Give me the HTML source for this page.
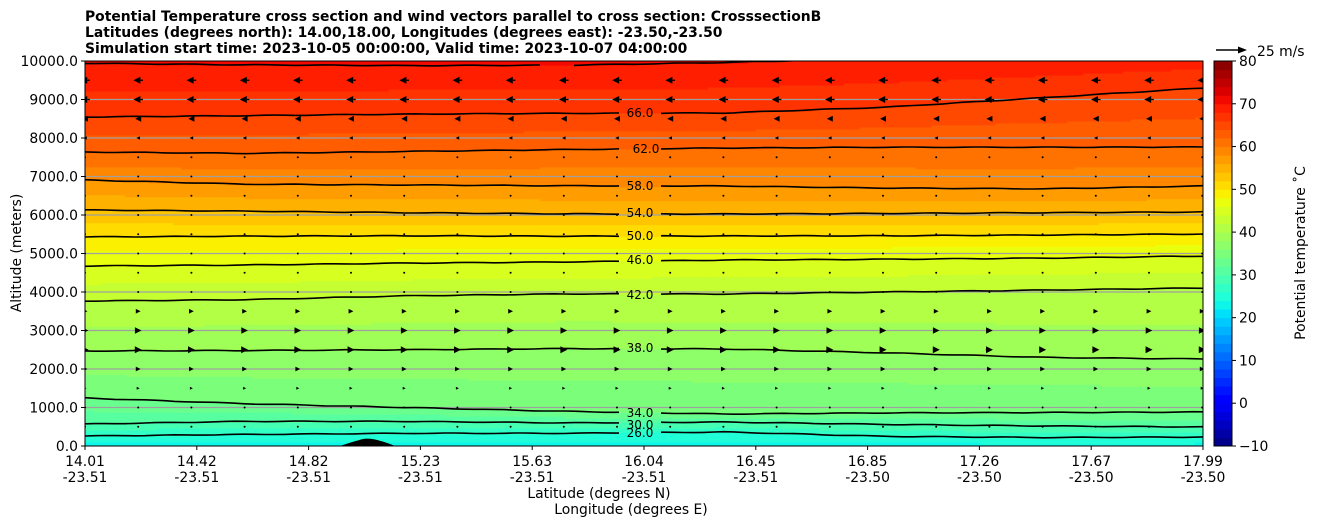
<!DOCTYPE html>
<html><head><meta charset="utf-8"><style>
body{margin:0;background:#fff;font-family:"Liberation Sans","DejaVu Sans",sans-serif}
svg text{font-family:"DejaVu Sans","Liberation Sans",sans-serif}
</style></head><body>
<svg id="c" width="1320" height="526" xmlns="http://www.w3.org/2000/svg">
<g font-weight="bold" font-size="13.9">
<text x="85" y="21">Potential Temperature cross section and wind vectors parallel to cross section: CrosssectionB</text>
<text x="85" y="37">Latitudes (degrees north): 14.00,18.00, Longitudes (degrees east): -23.50,-23.50</text>
<text x="85" y="53">Simulation start time: 2023-10-05 00:00:00, Valid time: 2023-10-07 04:00:00</text>
</g>
<defs><clipPath id="pc"><rect x="85" y="61" width="1118" height="385"/></clipPath>
<mask id="lm"><rect x="0" y="0" width="1320" height="526" fill="#fff"/><rect x="619" y="100" width="42" height="346" fill="#000"/><rect x="540" y="55" width="34" height="14" fill="#000"/></mask></defs>
<g id="field" clip-path="url(#pc)"></g>
<g id="grid"></g>
<g id="cont" clip-path="url(#pc)" mask="url(#lm)"></g>
<g id="clab" font-size="12"></g>
<g id="quiv" clip-path="url(#pc)"></g>
<path d="M340,446 Q355,441 363,439 Q373,437 395,446 Z" fill="#000"/>
<rect x="85" y="61" width="1118" height="385" fill="none" stroke="#000" stroke-width="1"/>
<g id="yax" font-size="13.9"></g>
<g id="xax" font-size="13.9"></g>
<text x="0" y="0" transform="translate(21,253) rotate(-90)" text-anchor="middle" font-size="13.9">Altitude (meters)</text>
<text x="599" y="498" text-anchor="middle" font-size="13.9">Latitude (degrees N)</text>
<text x="631" y="514" text-anchor="middle" font-size="13.9">Longitude (degrees E)</text>
<g><line x1="1216" y1="50" x2="1240" y2="50" stroke="#000" stroke-width="1.6"/><path d="M1247,50 L1238,46.5 L1238,53.5 Z"/><text x="1257" y="56" font-size="13.9">25 m/s</text></g>
<g id="cbar" font-size="13.9"></g>
<text transform="translate(1305,253) rotate(-90)" text-anchor="middle" font-size="13.9">Potential temperature ˚C</text>
</svg>
<script>
const xSamples=[14.01,14.58,15.15,15.72,16.29,16.86,17.43,17.99];
const levels=[26,30,34,38,42,46,50,54,58,62,66,70];
const contourAlt=[
[260,300,330,330,364,250,220,234],
[571,640,640,600,623,560,520,494],
[1247,1100,1000,900,831,860,870,883],
[2468,2480,2500,2530,2520,2420,2300,2260],
[3766,3800,3900,3950,3948,4000,4050,4104],
[4675,4700,4750,4780,4830,4850,4880,4935],
[5430,5450,5460,5450,5455,5460,5480,5506],
[6130,6100,6060,6030,6026,6040,6060,6078],
[6910,6800,6780,6760,6753,6700,6680,6753],
[7636,7600,7650,7700,7740,7760,7760,7766],
[8545,8580,8620,8640,8650,8800,9050,9300],
[9940,9900,9880,9890,9960,10080,10200,10300]];
const windAlt=[9500,9000,8500,8000,7500,7000,6500,6000,5500,5000,4500,4000,3500,3000,2500,2000,1500,1000,500];
const windU=[-8,-8,-5,-3,-1.5,-0.8,-0.6,-0.6,-0.5,-0.5,0.3,1.5,4,5.5,6,4,2.5,0.5,0.5];
const yTicks=[0,1000,2000,3000,4000,5000,6000,7000,8000,9000,10000];
const xLat=["14.01","14.42","14.82","15.23","15.63","16.04","16.45","16.85","17.26","17.67","17.99"];
const xLon=["-23.51","-23.51","-23.51","-23.51","-23.51","-23.51","-23.51","-23.50","-23.50","-23.50","-23.50"];
const cTicks=[-10,0,10,20,30,40,50,60,70,80];
const contLabels=[[26,640,433],[30,640,425],[34,640,413],[38,640,348],[42,640,295],[46,640,260],[50,640,236],[54,640,213],[58,640,186],[62,646,149],[66,640,113]];

const NS="http://www.w3.org/2000/svg";
const X0=85,X1=1203,Y0=446,Y1=61,LA=14.01,LB=17.99;
const xs=v=>X0+(v-LA)/(LB-LA)*(X1-X0);
const ys=a=>Y0-a/10000*(Y0-Y1);
function mk(t,a,p){const e=document.createElementNS(NS,t);for(const k in a)e.setAttribute(k,a[k]);p.appendChild(e);return e;}
function seg(pts,t){for(let i=0;i<pts.length-1;i++){if(t<=pts[i+1][0]){const f=(t-pts[i][0])/(pts[i+1][0]-pts[i][0]);return pts[i][1]+f*(pts[i+1][1]-pts[i][1]);}}return pts[pts.length-1][1];}
const JR=[[0,0],[0.35,0],[0.66,1],[0.89,1],[1,0.5]],JG=[[0,0],[0.125,0],[0.375,1],[0.64,1],[0.91,0],[1,0]],JB=[[0,0.5],[0.11,1],[0.34,1],[0.65,0],[1,0]];
function jet(v){const t=Math.max(0,Math.min(1,(v+10)/90));return `rgb(${Math.round(255*seg(JR,t))},${Math.round(255*seg(JG,t))},${Math.round(255*seg(JB,t))})`;}
function altAt(i,lat){let j=0;while(j<xSamples.length-2&&lat>xSamples[j+1])j++;const f=(lat-xSamples[j])/(xSamples[j+1]-xSamples[j]);return contourAlt[i][j]*(1-f)+contourAlt[i][j+1]*f;}
function thetaAt(lat,alt){const A=levels.map((l,i)=>altAt(i,lat));
 if(alt<=A[0])return levels[0]-(A[0]-alt)/A[0]*3;
 for(let i=0;i<A.length-1;i++)if(alt<=A[i+1])return levels[i]+(alt-A[i])/(A[i+1]-A[i])*(levels[i+1]-levels[i]);
 return 70+(alt-A[A.length-1])/700*4;}
const field=document.getElementById('field');
const NC=140,NR=193;
for(let c=0;c<NC;c++){const lat=LA+(c+0.5)/NC*(LB-LA);const x=X0+c*(X1-X0)/NC;
 let prev=null,start=0;
 for(let r=0;r<=NR;r++){let q=null;if(r<NR){const alt=(r+0.5)/NR*10000;q=Math.floor(thetaAt(lat,alt)/2)*2+1;}
  if(q!==prev){if(prev!==null){const el=mk('rect',{x:x.toFixed(2),y:(ys(r/NR*10000)).toFixed(2),width:((X1-X0)/NC+0.6).toFixed(2),height:((r-start)/NR*385+0.6).toFixed(2),fill:jet(prev)},field);
    
    }
   prev=q;start=r;}}}
const grid=document.getElementById('grid');
yTicks.forEach(t=>{if(t>0&&t<10000){const l=mk('line',{x1:X0,x2:X1,y1:ys(t),y2:ys(t),stroke:'#a0a0a0','stroke-width':1.2},grid);

}});
const cont=document.getElementById('cont');
levels.forEach((lv,i)=>{let d='';for(let k=0;k<=112;k++){const lat=LA+k/112*(LB-LA);const w=Math.sin(k*0.9+i)*8;d+=(k?'L':'M')+xs(lat).toFixed(1)+','+ys(altAt(i,lat)+w).toFixed(1);}
 const p=mk('path',{d:d,fill:'none',stroke:'#000','stroke-width':1.6},cont);
 
 });
const clab=document.getElementById('clab');
contLabels.forEach(l=>{const t=mk('text',{x:l[1],y:l[2]+4,'text-anchor':'middle'},clab);t.textContent=l[0].toFixed(1);

});
const quiv=document.getElementById('quiv');const sc=30/25;
windAlt.forEach((a,i)=>{const u=windU[i];for(let k=0;k<22;k++){const x=X0+k*53.2,y=ys(a);const L=Math.abs(u)*sc,s=Math.sign(u)||1;
 const g=mk('g',{},quiv);
 
 
 if(L<2){mk('circle',{cx:x,cy:y,r:1},g);continue;}
 const hl=Math.min(L,7),hw=Math.min(3.5,L*0.5);const tip=x+s*L/2,base=tip-s*hl;
 mk('line',{x1:x-s*L/2,y1:y,x2:base,y2:y,stroke:'#000','stroke-width':1.3},g);
 mk('path',{d:`M${tip},${y}L${base},${y-hw}L${base},${y+hw}Z`},g);}});
const yax=document.getElementById('yax');
yTicks.forEach(t=>{const y=ys(t);mk('line',{x1:X0-4,x2:X0,y1:y,y2:y,stroke:'#000'},yax);const tx=mk('text',{x:X0-7,y:y+5,'text-anchor':'end'},yax);tx.textContent=t.toFixed(1);

});
const xax=document.getElementById('xax');
xLat.forEach((l,i)=>{const x=X0+i*(X1-X0)/(xLat.length-1);mk('line',{x1:x,x2:x,y1:Y0,y2:Y0+4,stroke:'#000'},xax);
 const t1=mk('text',{x:x,y:466,'text-anchor':'middle'},xax);t1.textContent=l;
 
 
 const t2=mk('text',{x:x,y:482,'text-anchor':'middle'},xax);t2.textContent=xLon[i];
 
 });
const cb=document.getElementById('cbar');const CX=1214,CW=18;const cy=v=>Y0-(v+10)/90*(Y0-Y1);
for(let v=-10;v<80;v+=2){const r=mk('rect',{x:CX,y:cy(v+2),width:CW,height:cy(v)-cy(v+2)+0.5,fill:jet(v+1)},cb);

}
mk('rect',{x:CX,y:Y1,width:CW,height:Y0-Y1,fill:'none',stroke:'#000'},cb);
cTicks.forEach(v=>{mk('line',{x1:CX+CW,x2:CX+CW+4,y1:cy(v),y2:cy(v),stroke:'#000'},cb);const t=mk('text',{x:CX+CW+7,y:cy(v)+5},cb);t.textContent=v<0?'\u2212'+(-v):v;

});
</script>
</body></html>
